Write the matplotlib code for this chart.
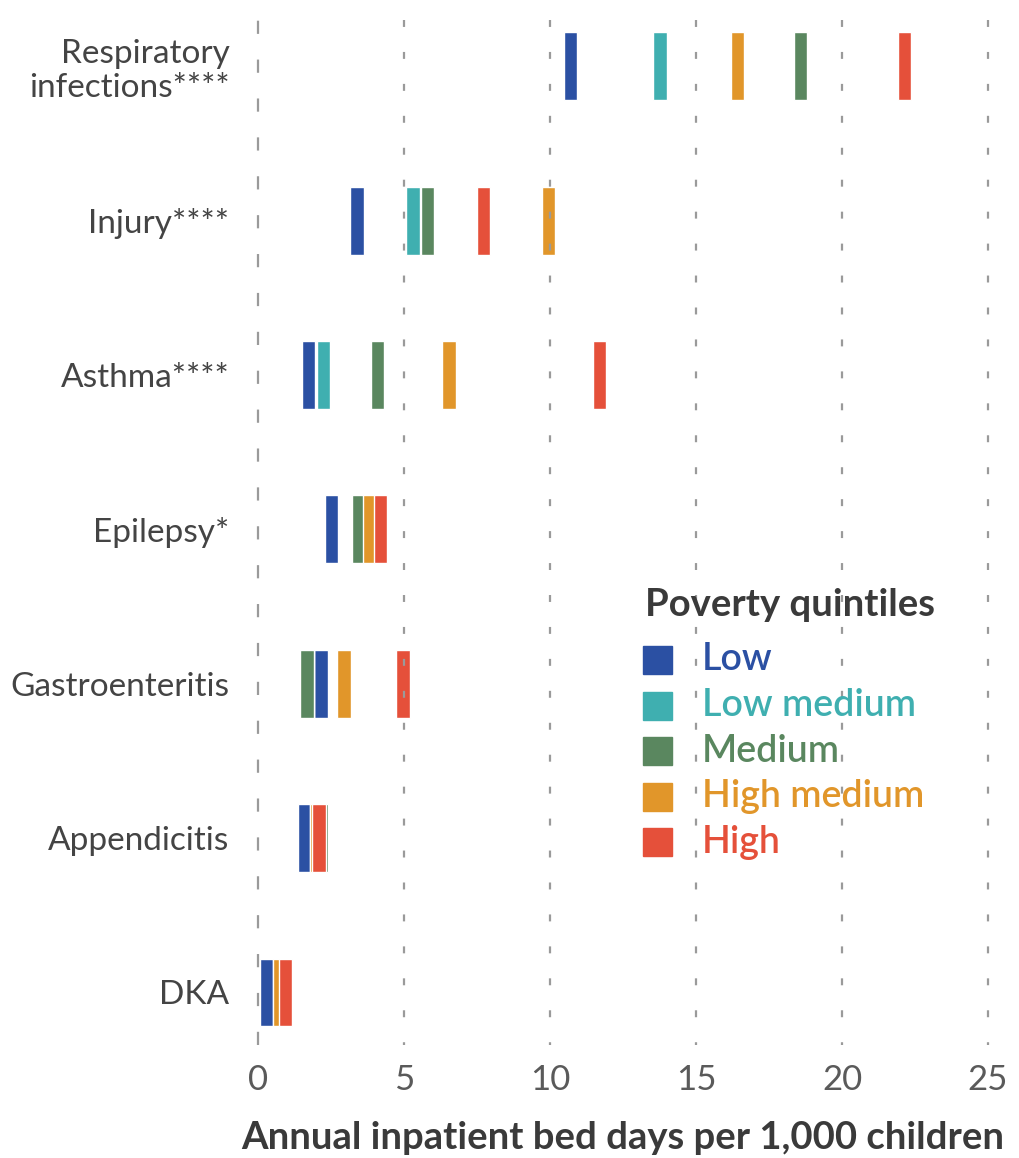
import matplotlib
matplotlib.use("Agg")
import matplotlib.pyplot as plt
from matplotlib.patches import Rectangle

plt.rcParams["font.family"] = ["Lato", "DejaVu Sans"]
plt.rcParams["lines.scale_dashes"] = False

conditions = ["Respiratory\ninfections****", "Injury****", "Asthma****", "Epilepsy*",
              "Gastroenteritis", "Appendicitis", "DKA"]
quintiles = ["Low", "Low medium", "Medium", "High medium", "High"]
colors = ["#2B50A3", "#3FAFB0", "#5A875F", "#E1962A", "#E5503A"]

# bed days per 1,000 children, one list per poverty quintile (same order as conditions)
low = [10.71, 3.39, 1.72, 2.52, 2.15, 1.60, 0.29]
low_medium = [13.77, 5.30, 2.24, 3.40, 1.70, 2.00, 0.80]
medium = [18.57, 5.80, 4.09, 3.46, 1.68, 2.17, 0.85]
high_medium = [16.42, 9.94, 6.54, 3.84, 2.95, 2.00, 0.75]
high = [22.14, 7.72, 11.69, 4.20, 4.97, 2.09, 0.95]
series = [low, low_medium, medium, high_medium, high]

xticks = [0, 5, 10, 15, 20, 25]

fig = plt.figure(figsize=(10.2, 11.58), dpi=100)
ax = fig.add_axes([0.2358, 0.0976, 0.75, 0.9024])

ypos = list(range(len(conditions)))
bar_w = 0.46
bar_h = 0.44
for vals, col in zip(series, colors):
    ax.bar(vals, bar_h, width=bar_w, bottom=[y - bar_h / 2 for y in ypos],
           color=col, edgecolor="white", linewidth=1.0, zorder=2)

for t in xticks:
    if t == 0:
        ax.axvline(t, color="#9a9a9a", lw=1.6, ls=(0, (9.5, 18.5)), zorder=3)
    else:
        ax.axvline(t, color="#9a9a9a", lw=1.6, ls=(3, (5, 18)), zorder=3)

ax.set_xlim(-0.6, 25.6)
ax.set_ylim(6.34, -0.43)
ax.set_xticks(xticks)
ax.set_xticklabels([str(t) for t in xticks], fontsize=25, color="#5a5a5a")
ax.set_yticks(ypos)
ax.set_yticklabels(conditions, fontsize=24, color="#444444", linespacing=1.15)
ax.tick_params(length=0)
ax.tick_params(axis="y", pad=8)
ax.tick_params(axis="x", pad=14)
for s in ax.spines.values():
    s.set_visible(False)

ax.set_xlabel("Annual inpatient bed days per 1,000 children", fontsize=27.5,
              fontweight="bold", color="#3a3a3a", labelpad=18)

# legend drawn by hand
W, H = 1020, 1158
fig.text(645 / W, 1 - 605 / H, "Poverty quintiles", fontsize=27.5, fontweight="bold",
         color="#3a3a3a", va="center", ha="left")
for i, (name, col) in enumerate(zip(quintiles, colors)):
    yc = 660 + i * 45.5
    fig.add_artist(Rectangle((643 / W, 1 - (yc + 14) / H), 29 / W, 28 / H,
                             transform=fig.transFigure, color=col))
    fig.text(702 / W, 1 - yc / H, name, fontsize=27, fontweight="semibold",
             color=col, va="center", ha="left")

fig.savefig("out.png", dpi=100)
